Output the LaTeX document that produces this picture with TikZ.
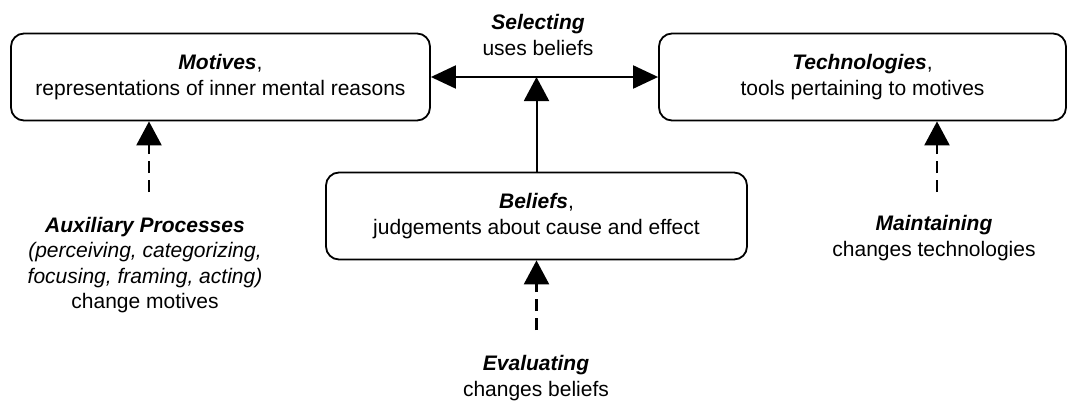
\documentclass[tikz,border=0pt]{standalone}
\usepackage{fontspec}
\setmainfont{Liberation Sans}
\usetikzlibrary{arrows.meta}
\begin{document}
\begin{tikzpicture}[x=1pt,y=-1pt,
  font=\fontsize{21}{25.5}\selectfont,
  box/.style={draw, line width=1.8pt, rounded corners=13pt, align=center,
    inner sep=0pt, minimum height=87pt},
  lbl/.style={align=center, inner sep=0pt},
  tip/.style={-{Triangle[length=24pt,width=25pt]}},
  link/.style={line width=2pt, tip},
  twoway/.style={line width=2pt,
    {Triangle[length=25pt,width=23pt]}-{Triangle[length=25pt,width=23pt]}},
  dashlink/.style={link, line width=2.4pt, dash pattern=on 12pt off 7pt}]
\useasboundingbox (0,0) rectangle (1068,402);

% the three concept boxes
\node[box, minimum width=419pt] (mot) at (220.5,77)
  {\textbf{\textit{Motives}},\\representations of inner mental reasons};
\node[box, minimum width=407pt] (tech) at (862.5,77)
  {\textbf{\textit{Technologies}},\\tools pertaining to motives};
\node[box, minimum width=421pt] (bel) at (536.5,216)
  {\textbf{\textit{Beliefs}},\\judgements about cause and effect};

% process labels
\node[lbl] (sel) at (538,35) {\textbf{\textit{Selecting}}\\uses beliefs};
\node[lbl] (aux) at (145,265) {\textbf{\textit{Auxiliary Processes}}\\
  \textit{(perceiving, categorizing,}\\\textit{focusing, framing, acting)}\\change motives};
\node[lbl] (mnt) at (934,238) {\textbf{\textit{Maintaining}}\\changes technologies};
\node[lbl] (evl) at (536,378) {\textbf{\textit{Evaluating}}\\changes beliefs};

% free ends of the dashed arrows
\coordinate (auxend) at (149,192);
\coordinate (mntend) at (937,192);
\coordinate (evlend) at (536.5,330);

% selecting: beliefs feed the choice between motives and technologies
\draw[twoway] (mot.east) -- (tech.west);
\draw[link] (bel.north) -- (bel.north |- mot.east);

% processes that change the concepts
\draw[dashlink] (auxend) -- (auxend |- mot.south);
\draw[dashlink] (mntend) -- (mntend |- tech.south);
\draw[dashlink] (evlend) -- (bel.south);
\end{tikzpicture}
\end{document}
